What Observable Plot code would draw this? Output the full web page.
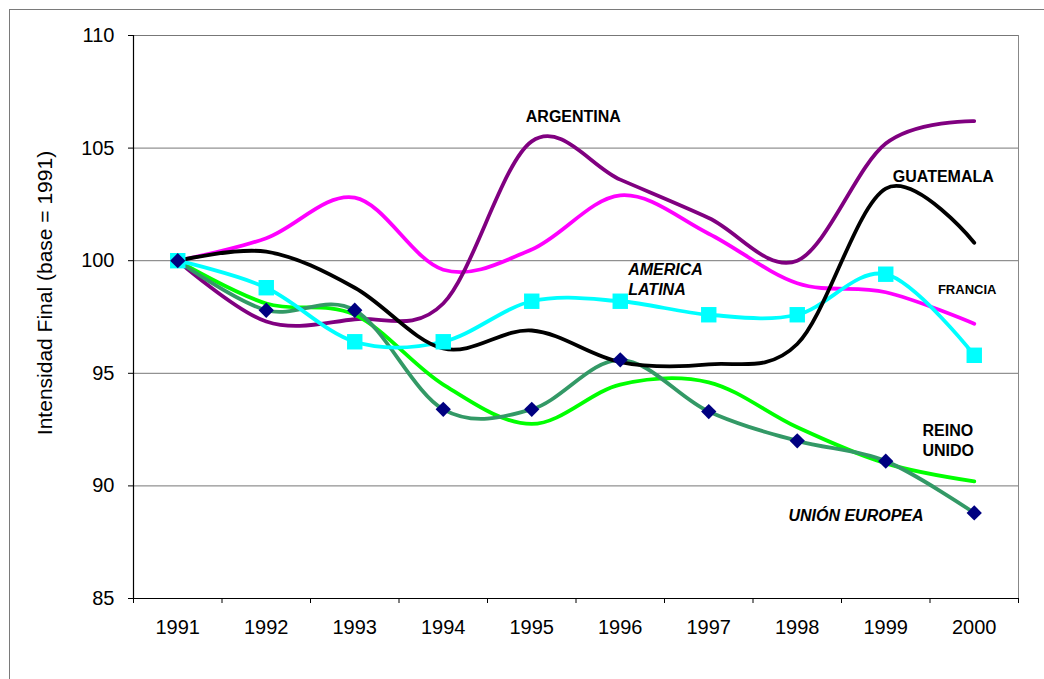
<!DOCTYPE html>
<html>
<head>
<meta charset="utf-8">
<script src="https://cdn.jsdelivr.net/npm/d3@7"></script>
<script src="https://cdn.jsdelivr.net/npm/@observablehq/plot@0.6"></script>
<style>
  html, body { margin: 0; padding: 0; background: #fff; }
  #wrap { position: relative; width: 1044px; height: 679px; overflow: hidden; }
  #border { position: absolute; left: 9px; top: 9px; width: 1100px; height: 700px;
            border-left: 1px solid #7a7a7a; border-top: 1px solid #7a7a7a; pointer-events: none; }
</style>
</head>
<body>
<div id="wrap"><div id="chart"></div><div id="border"></div></div>
<script>
// ---- data ----
const years = [1991, 1992, 1993, 1994, 1995, 1996, 1997, 1998, 1999, 2000];
const argentina     = [100, 97.3, 97.4, 98.1, 105.3, 103.6, 101.9, 100.0, 105.2, 106.2];
const francia       = [100, 101.0, 102.8, 99.6, 100.5, 102.9, 101.2, 99.0, 98.6, 97.2];
const guatemala     = [100, 100.4, 98.8, 96.1, 96.9, 95.5, 95.4, 96.3, 103.2, 100.8];
const americaLatina = [100, 98.8, 96.4, 96.4, 98.2, 98.2, 97.6, 97.6, 99.4, 95.8];
const reinoUnido    = [100, 98.1, 97.6, 94.5, 92.75, 94.5, 94.6, 92.6, 91.0, 90.2];
const unionEuropea  = [100, 97.8, 97.8, 93.4, 93.4, 95.6, 93.3, 92.0, 91.1, 88.8];
const yTicks = [85, 90, 95, 100, 105, 110];
const gridValues = [90, 95, 100, 105, 110];
const xTickMarks = [1990.5, 1991.5, 1992.5, 1993.5, 1994.5, 1995.5, 1996.5, 1997.5, 1998.5, 1999.5, 2000.5];
const yTitle = "Intensidad Final (base = 1991)";
// annotation labels (text, anchor year, anchor value)
const labelText = ["ARGENTINA", "GUATEMALA", "FRANCIA", "AMERICA", "LATINA", "REINO", "UNIDO", "UNIÓN EUROPEA"];
const labelYear = [1995.47, 1999.65, 1999.92, 1996.09, 1996.09, 1999.415, 1999.415, 1997.90];
const labelValue = [106.39, 103.73, 98.70, 99.61, 98.72, 92.46, 91.57, 88.69];

// ---- build ----
const seriesDefs = [
  {name: "Francia", values: francia, color: "#FF00FF"},
  {name: "Argentina", values: argentina, color: "#800080"},
  {name: "Reino Unido", values: reinoUnido, color: "#00FF00"},
  {name: "Unión Europea", values: unionEuropea, color: "#339966"},
  {name: "America Latina", values: americaLatina, color: "#00FFFF"},
  {name: "Guatemala", values: guatemala, color: "#000000"}
];
const rows = s => years.map((yr, i) => ({year: yr, value: s.values[i]}));
const labels = labelText.map((t, i) => ({text: t, year: labelYear[i], value: labelValue[i]}));
const centered = labels.filter(d => ["ARGENTINA", "GUATEMALA", "FRANCIA"].includes(d.text));
const leftBold = labels.filter(d => ["REINO", "UNIDO"].includes(d.text));
const leftItalic = labels.filter(d => ["AMERICA", "LATINA", "UNIÓN EUROPEA"].includes(d.text));

const marks = [
  Plot.ruleY(gridValues, {stroke: "#777", strokeWidth: 1}),
  Plot.ruleX([2000.5], {stroke: "#888", strokeWidth: 1}),
  ...seriesDefs.map(s => Plot.line(rows(s), {x: "year", y: "value", stroke: s.color, strokeWidth: 3.8, curve: "cardinal"})),
  Plot.dot(rows(seriesDefs[4]), {x: "year", y: "value", symbol: "square", r: 8.7, fill: "#00FFFF"}),
  Plot.dot(rows(seriesDefs[3]), {x: "year", y: "value", symbol: "square", rotate: 45, r: 6.1, fill: "#000080"}),
  Plot.ruleY([85], {stroke: "#000", strokeWidth: 1.2}),
  Plot.ruleX([1990.5], {stroke: "#000", strokeWidth: 1.2}),
  Plot.axisY(yTicks, {anchor: "left", tickSize: 5, tickPadding: 14, fontSize: 20, label: null}),
  Plot.axisX(years, {anchor: "bottom", tickSize: 0, tickPadding: 21, fontSize: 20, tickFormat: d => String(d), label: null}),
  Plot.axisX(xTickMarks, {anchor: "bottom", tickSize: 5, tickFormat: () => "", label: null}),
  Plot.text([yTitle], {frameAnchor: "left", rotate: -90, dx: -88, dy: -24, fontSize: 21, textAnchor: "middle", lineAnchor: "middle", text: d => d}),
  Plot.text(centered, {x: "year", y: "value", text: "text", fontSize: d => d.text === "FRANCIA" ? 13 : 16, fontWeight: "bold", textAnchor: "middle", lineAnchor: "middle"}),
  Plot.text(leftBold, {x: "year", y: "value", text: "text", fontSize: 16, fontWeight: "bold", textAnchor: "start", lineAnchor: "middle"}),
  Plot.text(leftItalic, {x: "year", y: "value", text: "text", fontSize: 16, fontWeight: "bold", fontStyle: "italic", textAnchor: "start", lineAnchor: "middle"})
];

const chart = Plot.plot({
  width: 1044,
  height: 679,
  marginLeft: 133,
  marginRight: 26,
  marginTop: 35,
  marginBottom: 81,
  style: {fontFamily: "'Liberation Sans', Arial, sans-serif", background: "white", color: "black"},
  x: {type: "linear", domain: [1990.5, 2000.5]},
  y: {domain: [85, 110]},
  marks
});
document.getElementById("chart").appendChild(chart);
</script>
</body>
</html>
